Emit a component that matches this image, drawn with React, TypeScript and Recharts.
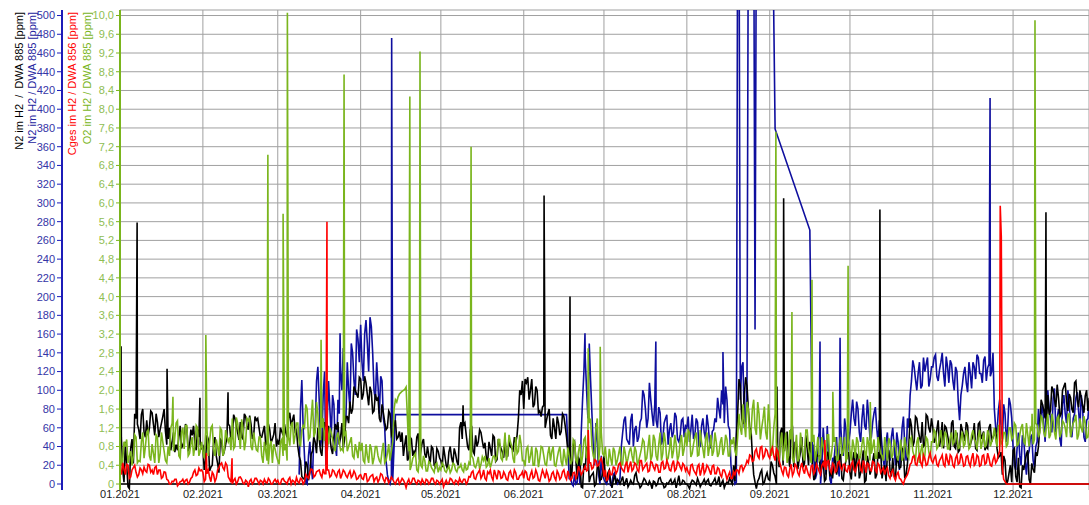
import React from 'react';
import { LineChart, Line, XAxis, YAxis, CartesianGrid, ReferenceLine } from 'recharts';

// ---- time axis (day of year 2021, 0 = 1 Jan) ----
const monthStarts = [0, 31, 59, 90, 120, 151, 181, 212, 243, 273, 304, 334];
const monthLabels = ['01.2021', '02.2021', '03.2021', '04.2021', '05.2021', '06.2021', '07.2021', '08.2021', '09.2021', '10.2021', '11.2021', '12.2021'];
const DAY_END = 362.4;

// ---- value axes ----
const ppmTicks = [0, 20, 40, 60, 80, 100, 120, 140, 160, 180, 200, 220, 240, 260, 280, 300, 320, 340, 360, 380, 400, 420, 440, 460, 480, 500];
const o2Ticks = [0, 0.4, 0.8, 1.2, 1.6, 2, 2.4, 2.8, 3.2, 3.6, 4, 4.4, 4.8, 5.2, 5.6, 6, 6.4, 6.8, 7.2, 7.6, 8, 8.4, 8.8, 9.2, 9.6, 10];
const PPM_MIN = -6.4;
const PPM_MAX = 505.9;
const O2_MIN = PPM_MIN / 50;
const O2_MAX = PPM_MAX / 50;

// ---- N2 im H2 / DWA 885 (black) [ppm]: midnight and midday readings per month ----
const n2BlackDaily: number[][] = [
  [40, 15, 45, -3, 38, 22, 70, 58, 74, 55, 68, 60, 76, 52, 66, 58, 72, 56, 48, 36, 55, 42, 50, 38, 46, 60, 40, 52, 44, 58, 42],
  [40, 25, 48, 18, 44, 30, 12, 46, 35, 50, 62, 50, 70, 55, 66, 48, 72, 58, 64, 52, 68, 60, 50, 62, 44, 58, 48, 65],
  [46, 60, 52, 55, 70, 62, 74, 58, 30, 8, 5, 20, 12, 35, 45, 60, 35, 55, 40, 62, 38, 50, 58, 42, 65, 48, 72, 88, 80, 100, 92],
  [112, 96, 108, 84, 98, 78, 90, 70, 85, 66, 60, 75, 55, 68, 50, 45, 30, 52, 28, 48, 35, 50, 26, 44, 32, 40, 22, 38, 18, 35],
  [25, 40, 20, 34, 28, 38, 24, 60, 48, 65, 40, 58, 35, 52, 45, 55, 38, 28, 45, 30, 50, 26, 42, 34, 48, 30, 40, 36, 44, 70, 95],
  [80, 108, 90, 112, 85, 100, 78, 82, 60, 75, 52, 70, 48, 65, 56, 72, 50, 30, 10, 45, 5, 25, -4, 15, 35, 8, 12, 0, 20, 5],
  [30, 2, 15, -4, 10, 5, 0, 8, 2, -3, 4, 0, 12, 1, -2, 6, 0, 3, -5, 2, 0, 7, 1, -3, 0, 5, 2, -4, 9, 0, 3],
  [0, -5, 4, 1, 6, -3, 2, 0, 5, -2, 3, 0, 8, 1, -4, 2, 6, 0, 3, 75, 105, 64, 114, 80, 58, 10, -5, 6, 15, 2, 12],
  [4, 20, 8, 35, 55, 20, 48, 30, 58, 18, 42, 26, 50, 22, 38, 45, 20, 8, 30, 12, 25, 5, 33, 15, 22, 10, 28, 6, 18, 30],
  [12, 25, 8, 30, 12, 36, 4, 22, 15, 33, 10, 27, 6, 20, 32, 14, 28, 5, 24, 18, 35, 10, 40, 62, 45, 70, 50, 66, 42, 72, 55],
  [60, 48, 68, 50, 38, 60, 44, 65, 40, 55, 36, 58, 46, 62, 42, 52, 38, 64, 48, 56, 40, 60, 45, 53, 38, 30, 10, 25, 3, 20],
  [36, 8, 28, -4, 15, 32, 5, 22, 12, 30, 60, 85, 70, 95, 78, 100, 82, 92, 75, 104, 88, 96, 80, 108, 90, 100, 84, 94, 78],
];
const n2BlackNoon: (number | null)[][] = [
  [50, 2, 20, -5, 48, 75, 64, 48, 80, 50, 52, 78, 64, 75, 50, 65, 80, 42, 60, 45, 34, 36, 62, 42, 64, 35, 58, 62, 36, 50, 38],
  [15, 52, 14, 20, 50, 22, 48, 30, 42, 64, 46, 74, 62, 47, 50, 75, 62, 73, 48, 72, 70, 50, 56, 42, 64, 44, 53, 40],
  [42, 56, 64, 50, 76, 68, 56, 40, 25, 6, 24, 4, 32, 50, 33, 48, 30, 66, 35, 50, 32, 64, 66, 50, 38, 72, 65, 75, 104, 96, 114],
  [90, 115, 96, 104, 76, 96, 92, 66, 76, 58, 78, 52, 62, 48, 56, 55, 42, 25, 50, 30, 32, 54, 35, 48, 28, 30, 40, 20, 38, 28],
  [18, 30, 16, 40, 22, 32, 20, 66, 62, 52, 36, 62, 32, 40, 58, 46, 44, 24, 38, 52, 24, 48, 38, 28, 30, 46, 38, 50, 52, 100, 110],
  [112, 114, 100, 82, 104, 76, 72, 84, 68, 80, 48, 60, 72, 52, 75, 62, 35, 8, 42, 25, 28, -3, 22, 40, 2, 10, -2, 18, 4, 12],
  [8, 12, 2, 4, 0, 3, 4, -2, 6, 0, 1, 9, 3, -4, 2, 4, -1, 0, 3, -2, 6, 2, -4, 1, 3, 0, 5, 2, -1, 4, 0],
  [-2, 1, 3, -1, 2, 0, 5, 3, -1, 1, 6, 2, -3, 4, 0, 1, 3, 20, 50, 112, 70, 96, 105, 60, 30, 2, 3, 12, 0, 8, 5],
  [24, 12, 0, 18, 60, 35, 56, 18, 60, 45, 16, 34, 18, 52, 20, 32, 4, 32, 30, 18, 3, 34, 8, 6, 30, 18, 32, 4, 25, 34],
  [5, 34, 32, 6, 24, 2, 30, 10, 25, 6, 34, 35, 16, 3, 36, 8, 10, 30, 17, 38, 6, 22, 70, 40, 72, 58, 44, 40, 74, 60, 70],
  [44, 58, 40, 66, 62, 52, 36, 68, 38, 34, 64, 52, 66, 38, 47, 65, 36, 66, 52, 36, 38, 64, 50, 60, 28, 34, 30, 0, 12, 2],
  [38, 2, -3, 20, 24, 36, 0, 16, 34, 40, 90, 78, 66, 74, 104, 90, 106, 72, 100, 108, 78, 92, 76, 110, 82, 92, 76, 100, 92],
];
const n2BlackPeaks: [number, number][] = [
  [0.4, 147], [6.4, 279], [17.6, 123], [29.9, 92], [40.4, 98], [128.3, 84], [158.6, 308],
  [168.3, 200], [245.7, 104], [248.2, 305], [284.2, 293], [346.3, 290],
];

// ---- N2 im H2 / DWA 885 (blue) [ppm]; null = no reading ----
const n2BlueDaily: (number | null)[][] = [
  [],
  [],
  [null, null, null, null, null, null, null, null, 10, 111, 30, 0, 45, 5, 60, 125, 40, 95, 20, 110, 50, 85, 30, 75, 100, 60, 130, 80, 140, 95, 155],
  [170, 110, 175, 120, 168, 100, 130, 75, 110, 60, 10, 0, 5, 74],
  [],
  [null, null, null, null, null, null, null, null, null, null, null, null, null, null, null, null, 74, 5, 0, 10, 2, 0, 90, 135, 70, 110, 40, 65, 10, 30],
  [5, 0, 8, 2, 12, 0, 6, 55, 72, 45, 68, 40, 62, 50, 70, 95, 60, 108, 75, 85, 60, 76, 48, 70, 42, 65, 55, 72, 45, 68, 50],
  [60, 45, 74, 52, 66, 40, 70, 48, 62, 38, 58, 66, 80, 100, 65, 90, 58, 5, 0, 620, 90, 130, 70, 620, 620, 620, 620, 620, 620, 620, 620],
  [620, 620, 379, null, null, null, null, null, null, null, null, null, null, null, null, 271, 20, 5, 45, 0, 60, 10, 35, 0, 25, 50, 8, 40, 70, 30],
  [55, 90, 62, 80, 45, 85, 58, 72, 50, 76, 60, 68, 40, 15, 55, 25, 60, 20, 45, 35, 72, 25, 60, 110, 125, 100, 130, 105, 120, 135, 112],
  [125, 138, 110, 130, 118, 136, 108, 128, 100, 120, 68, 105, 125, 98, 118, 130, 112, 135, 118, 132, 110, 128, 120, 80, 55, 90, 48, 75, 60, 85],
  [40, 15, 55, 20, 48, 10, 35, 52, 18, 45, 60, 85, 45, 100, 70, 92, 55, 80, 40, 95, 65, 88, 50, 75, 98, 60, 82, 45, 70],
];
const n2BlueNoon: (number | null)[][] = [
  [],
  [],
  [null, null, null, null, null, null, null, null, 80, 60, 2, 30, 20, 55, 110, 90, 50, 120, 70, 80, 95, 40, 90, 120, 145, 70, 100, 150, 110, 165, 130],
  [130, 160, 150, 178, 140, 90, 105, 115, 70, 25, 3, 8, null, null],
  [],
  [null, null, null, null, null, null, null, null, null, null, null, null, null, null, null, null, null, 8, -2, 0, 25, 55, 120, 100, 150, 75, 20, 45, 0, 10],
  [2, 6, -2, 10, 4, 2, 40, 68, 48, 42, 75, 58, 45, 66, 100, 80, 70, 90, 62, 68, 82, 42, 65, 74, 58, 50, 76, 48, 52, 70, 62],
  [72, 58, 48, 70, 40, 62, 55, 74, 45, 56, 70, 92, 70, 85, 104, 62, 20, 8, 2, 620, 125, 60, 112],
  [null, null, null, null, null, null, null, null, null, null, null, null, null, null, null, null, 42, 10, 55, 20, 38, 62, 5, 28, 40, 18, 65, 30, 58, 45],
  [75, 70, 88, 55, 70, 62, 90, 48, 66, 82, 45, 58, 25, 45, 30, 50, 40, 55, 15, 60, 40, 70, 95, 132, 112, 118, 102, 135, 128, 104, 125],
  [135, 115, 122, 140, 104, 125, 132, 110, 125, 88, 95, 118, 108, 130, 102, 125, 138, 118, 108, 136, 124, 115, 140, 60, 78, 62, 85, 45, 92, 70],
  [20, 38, 30, 52, 25, 30, 50, 25, 40, 80, 75, 62, 92, 80, 55, 102, 70, 48, 85, 75, 100, 55, 70, 92, 78, 95, 50, 68, 88],
];
const n2BluePeaks: [number, number][] = [
  [82.3, 161], [101.6, 476], [173.9, 161], [200.4, 152], [225.5, 141], [237.5, 165],
  [261.8, 152], [269.3, 156], [325.4, 412],
];

// ---- O2 im H2 / DWA 885 (green) [ppm] ----
const o2GreenDaily: number[][] = [
  [0.9, 0.5, 0.8, 0.45, 0.7, 0.6, 1.0, 0.5, 0.9, 0.55, 1.1, 0.6, 0.85, 0.45, 1.0, 0.65, 0.9, 0.5, 0.8, 1.2, 0.7, 1.3, 0.6, 1.1, 0.75, 1.25, 0.65, 1.0, 0.8, 1.2, 0.7],
  [0.7, 1.1, 0.6, 1.2, 0.75, 0.95, 0.6, 1.15, 0.7, 1.0, 1.0, 1.4, 0.8, 1.3, 0.75, 1.2, 0.9, 1.35, 0.8, 1.1, 0.73, 1.0, 0.6, 0.9, 0.5, 0.8, 0.45, 0.75],
  [0.5, 0.9, 0.6, 0.85, 1.0, 1.25, 0.85, 1.3, 0.9, 1.15, 1.2, 1.6, 1.0, 1.8, 1.1, 1.5, 0.95, 1.4, 1.2, 0.85, 1.1, 0.8, 1.0, 0.9, 0.75, 1.05, 0.7, 0.9, 0.6, 0.85, 0.55],
  [0.7, 0.5, 0.85, 0.45, 0.75, 0.55, 0.8, 0.5, 0.7, 0.45, 0.65, 0.5, 0.9, 1.8, 1.86, 1.95, 2.0, 2.07, 0.7, 0.4, 0.6, 0.3, 0.55, 0.35, 0.5, 0.28, 0.45, 0.3, 0.42, 0.25],
  [0.3, 0.4, 0.25, 0.38, 0.3, 0.42, 0.26, 0.35, 0.3, 0.45, 0.32, 0.4, 0.55, 0.35, 0.58, 0.42, 0.5, 0.36, 0.55, 0.45, 0.6, 0.6, 0.95, 0.5, 1.1, 0.65, 0.9, 0.55, 1.0, 0.7, 0.85],
  [0.5, 0.75, 0.45, 0.8, 0.4, 0.7, 0.55, 0.78, 0.42, 0.65, 0.5, 0.8, 0.38, 0.7, 0.48, 0.75, 0.4, 0.6, 0.5, 0.9, 0.45, 0.85, 0.6, 1.0, 0.7, 1.4, 0.6, 1.2, 0.5, 1.1],
  [0.6, 0.45, 0.75, 0.4, 0.7, 0.5, 0.8, 0.42, 0.65, 0.55, 0.78, 0.45, 0.7, 0.5, 0.75, 0.9, 0.55, 1.05, 0.6, 0.95, 0.5, 1.1, 0.65, 0.9, 0.55, 1.0, 0.7, 0.85, 0.6, 1.05, 0.75],
  [0.8, 1.1, 0.65, 1.0, 0.6, 1.15, 0.75, 0.95, 0.6, 1.05, 0.7, 0.9, 0.65, 1.0, 0.75, 0.95, 0.6, 0.85, 0.7, 1.0, 1.2, 1.7, 1.0, 1.6, 1.1, 1.8, 1.05, 1.5, 1.2, 1.65, 0.95],
  [1.3, 0.7, 1.5, 0.6, 0.9, 0.5, 1.1, 0.6, 0.95, 0.45, 1.05, 0.55, 0.85, 0.5, 1.15, 0.6, 0.9, 0.48, 1.0, 0.55, 0.8, 0.5, 1.05, 0.6, 0.9, 0.52, 0.85, 0.6, 1.0, 0.55],
  [0.7, 0.95, 0.55, 0.9, 0.6, 1.0, 0.5, 0.85, 0.65, 0.95, 0.55, 0.8, 0.6, 1.0, 0.5, 0.9, 0.62, 0.85, 0.5, 0.95, 0.6, 0.8, 0.55, 1.0, 0.6, 0.9, 0.45, 0.85, 0.6, 0.95, 0.55],
  [0.9, 1.1, 0.8, 1.15, 0.85, 1.05, 0.75, 1.1, 0.9, 1.0, 0.78, 1.12, 0.85, 1.05, 0.8, 1.15, 0.9, 1.0, 0.75, 1.1, 0.85, 1.05, 0.9, 1.2, 0.8, 1.25, 0.9, 1.1, 0.85, 1.2],
  [1.0, 1.25, 0.85, 1.2, 0.9, 1.3, 0.8, 1.15, 0.95, 1.25, 1.1, 1.4, 1.0, 1.5, 1.05, 1.35, 0.95, 1.45, 1.1, 1.3, 1.0, 1.5, 1.15, 1.35, 0.95, 1.4, 1.1, 1.3, 1.0],
];
const o2GreenNoon: (number | null)[][] = [
  [0.4, 0.9, 0.95, 0.6, 0.4, 1.05, 0.45, 0.48, 1.1, 0.8, 1.15, 0.5, 0.65, 1.05, 0.45, 1.1, 0.7, 0.45, 0.6, 1.3, 1.0, 1.35, 0.55, 1.2, 1.25, 0.6, 0.85, 0.6, 1.25, 0.6, 0.9],
  [0.55, 1.2, 0.9, 1.25, 0.6, 0.78, 1.2, 0.6, 1.15, 0.9, 0.72, 0.75, 1.42, 1.05, 1.38, 0.72, 1.4, 1.4, 0.72, 0.9, 0.7, 1.0, 0.45, 0.7, 0.42, 0.92, 0.85, 0.6],
  [0.42, 0.95, 0.72, 0.5, 0.82, 1.32, 1.05, 1.3, 0.8, 1.25, 1.7, 0.95, 1.4, 1.0, 1.75, 0.95, 1.2, 0.92, 1.25, 1.2, 0.95, 0.7, 1.1, 0.72, 0.7, 1.1, 0.8, 1.0, 0.55, 0.72, 0.9],
  [0.88, 0.45, 0.6, 0.85, 0.42, 0.8, 0.6, 0.45, 0.88, 0.5, 0.85, 0.7, 1.6, 1.75, 1.92, 1.98, 2.02, 1.4, 0.3, 0.55, 0.65, 0.26, 0.4, 0.6, 0.28, 0.48, 0.35, 0.25, 0.45, 0.35],
  [0.45, 0.28, 0.32, 0.24, 0.44, 0.3, 0.36, 0.42, 0.26, 0.3, 0.46, 0.6, 0.38, 0.45, 0.32, 0.58, 0.6, 0.4, 0.35, 0.58, 0.5, 0.95, 0.55, 0.75, 0.5, 1.05, 0.8, 0.45, 0.65, 1.05, 0.5],
  [0.38, 0.8, 0.6, 0.4, 0.78, 0.36, 0.8, 0.6, 0.4, 0.8, 0.7, 0.4, 0.55, 0.8, 0.38, 0.55, 0.78, 0.42, 0.95, 0.5, 0.7, 0.4, 0.95, 0.55, 1.3, 0.8, 0.5, 1.4, 0.8, 0.65],
  [0.8, 0.38, 0.55, 0.78, 0.4, 0.65, 0.4, 0.8, 0.42, 0.7, 0.6, 0.8, 0.4, 0.62, 0.95, 0.5, 0.8, 0.5, 1.05, 0.6, 0.85, 0.5, 1.1, 0.5, 0.75, 0.55, 1.05, 0.5, 0.9, 0.6, 1.1],
  [1.15, 0.58, 0.85, 1.1, 0.62, 0.9, 0.55, 1.1, 0.8, 0.6, 1.1, 0.58, 0.9, 0.62, 1.05, 0.6, 0.95, 1.0, 0.6, 1.5, 1.05, 1.3, 1.75, 0.95, 1.6, 1.2, 1.75, 0.95, 1.4, 1.1, 1.7],
  [0.6, 1.2, 0.9, 0.5, 1.1, 0.8, 0.45, 1.15, 0.55, 0.75, 0.48, 1.1, 0.6, 1.15, 0.75, 0.45, 1.05, 0.7, 0.5, 1.0, 0.62, 1.05, 0.5, 0.85, 1.0, 0.5, 1.0, 0.7, 0.5, 0.95],
  [0.5, 0.8, 1.0, 0.5, 0.85, 0.7, 1.0, 0.5, 0.78, 0.55, 1.0, 0.65, 0.5, 0.75, 0.98, 0.55, 0.95, 0.6, 0.72, 0.5, 1.0, 0.6, 0.95, 0.7, 0.5, 1.0, 0.7, 0.5, 1.0, 0.68, 0.9],
  [1.15, 0.75, 1.0, 0.8, 1.12, 0.75, 1.0, 0.85, 1.15, 0.76, 0.95, 0.8, 1.15, 0.75, 1.05, 0.95, 0.74, 1.15, 0.9, 0.78, 1.15, 0.8, 1.0, 0.95, 1.25, 0.85, 1.1, 0.8, 1.2, 0.95],
  [1.3, 0.82, 1.05, 1.28, 0.85, 1.05, 1.2, 0.85, 1.3, 1.0, 1.45, 1.1, 1.25, 0.98, 1.5, 1.1, 1.4, 1.0, 1.35, 1.2, 1.48, 1.0, 1.3, 1.48, 1.05, 1.2, 1.45, 0.98, 1.35],
];
const o2GreenPeaks: [number, number][] = [
  [19.8, 1.86], [32.1, 3.18], [55.3, 7.03], [61.0, 5.77], [62.6, 10.06], [75.2, 3.08], [83.8, 8.74],
  [108.4, 8.27], [112.2, 9.23], [131.3, 7.2], [175.1, 2.9], [179.6, 2.93], [245.3, 7.52], [251.3, 3.67],
  [258.8, 4.36], [266.6, 1.97], [272.3, 4.66], [280.6, 1.75], [341.1, 1.5], [342.2, 9.9],
];

// ---- Cges im H2 / DWA 856 (red) [ppm] ----
const cgesRedDaily: number[][] = [
  [0.3, 0.45, 0.2, 0.4, 0.15, 0.35, 0.25, 0.2, 0.3, 0.36, 0.25, 0.4, 0.3, 0.35, 0.2, 0.3, 0.15, 0.25, 0.08, 0.0, 0.05, 0.1, 0.0, 0.06, 0.02, 0.1, 0.04, 0.15, 0.3, 0.2, 0.28],
  [0.25, 0.1, 0.3, 0.05, 0.2, 0.12, 0.35, 0.45, 0.3, 0.4, 0.1, 0.0, 0.12, 0.05, 0.15, 0.02, 0.08, -0.06, 0.1, 0.04, 0.12, 0.0, 0.06, 0.1, 0.02, 0.08, 0.0, 0.1],
  [0.08, 0.0, 0.12, 0.04, 0.1, 0.0, 0.06, 0.14, 0.02, 0.1, 0.05, 0.15, 0.25, 0.3, 0.18, 0.28, 0.2, 0.32, 0.22, 0.3, 0.18, 0.28, 0.15, 0.3, 0.2, 0.26, 0.14, 0.28, 0.18, 0.22, 0.12],
  [0.2, 0.1, 0.22, 0.08, 0.18, 0.05, 0.15, 0.1, 0.2, 0.04, 0.12, 0.08, 0.1, 0.0, 0.12, 0.05, 0.08, -0.08, 0.1, 0.03, 0.12, 0.0, 0.06, 0.1, 0.0, 0.08, 0.04, 0.12, 0.0, 0.06],
  [0.05, -0.06, 0.08, 0.02, 0.1, 0.0, 0.06, 0.12, 0.03, 0.1, 0.05, 0.15, 0.28, 0.1, 0.25, 0.12, 0.3, 0.08, 0.22, 0.15, 0.3, 0.1, 0.26, 0.14, 0.2, 0.08, 0.28, 0.12, 0.24, 0.1, 0.2],
  [0.12, 0.25, 0.08, 0.28, 0.15, 0.22, 0.06, 0.3, 0.12, 0.2, 0.1, 0.26, 0.08, 0.22, 0.14, 0.3, 0.1, 0.18, 0.12, 0.25, 0.2, 0.3, 0.25, 0.38, 0.3, 0.45, 0.35, 0.5, 0.4, 0.55],
  [0.15, 0.08, 0.3, 0.2, 0.35, 0.28, 0.45, 0.3, 0.4, 0.25, 0.48, 0.32, 0.42, 0.26, 0.5, 0.35, 0.44, 0.28, 0.46, 0.3, 0.4, 0.25, 0.48, 0.34, 0.42, 0.28, 0.5, 0.32, 0.45, 0.3, 0.4],
  [0.35, 0.2, 0.42, 0.25, 0.38, 0.18, 0.45, 0.28, 0.36, 0.2, 0.4, 0.22, 0.32, 0.15, 0.3, 0.1, 0.25, 0.12, 0.2, 0.3, 0.38, 0.28, 0.4, 0.45, 0.6, 0.5, 0.75, 0.55, 0.8, 0.6, 0.72],
  [0.55, 0.78, 0.5, 0.7, 0.4, 0.2, 0.35, 0.15, 0.42, 0.25, 0.38, 0.18, 0.45, 0.22, 0.3, 0.15, 0.4, 0.28, 0.35, 0.2, 0.45, 0.3, 0.5, 0.24, 0.4, 0.28, 0.48, 0.3, 0.42, 0.26],
  [0.3, 0.48, 0.26, 0.45, 0.3, 0.5, 0.24, 0.42, 0.28, 0.46, 0.25, 0.4, 0.3, 0.2, 0.35, 0.12, 0.3, 0.08, 0.25, 0.1, 0.0, 0.15, 0.3, 0.45, 0.6, 0.4, 0.62, 0.38, 0.55, 0.42, 0.66],
  [0.45, 0.6, 0.38, 0.55, 0.42, 0.65, 0.4, 0.58, 0.36, 0.62, 0.45, 0.55, 0.4, 0.6, 0.38, 0.66, 0.44, 0.58, 0.4, 0.62, 0.45, 0.55, 0.38, 0.6, 0.5, 0.7, 0.35, 0.05, 0.0, 0.0],
  [0, 0, 0, 0, 0, 0, 0, 0, 0, 0, 0, 0, 0, 0, 0, 0, 0, 0, 0, 0, 0, 0, 0, 0, 0, 0, 0, 0, 0],
];
const cgesRedNoon: (number | null)[][] = [
  [0.2, 0.32, 0.42, 0.12, 0.3, 0.4, 0.15, 0.34, 0.22, 0.28, 0.42, 0.25, 0.2, 0.38, 0.3, 0.12, 0.26, 0.1, 0.0, 0.06, 0.1, -0.04, 0.05, 0.1, 0.08, 0.0, 0.12, 0.25, 0.18, 0.34, 0.3],
  [0.05, 0.22, 0.15, 0.25, 0.05, 0.3, 0.42, 0.35, 0.45, 0.15, 0.04, 0.08, 0.0, 0.14, 0.1, 0.0, 0.05, 0.06, 0.0, 0.12, 0.06, 0.08, 0.0, 0.04, 0.12, 0.0, 0.06, 0.04],
  [0.0, 0.1, 0.06, 0.0, 0.14, 0.08, 0.0, 0.05, 0.12, 0.0, 0.2, 0.12, 0.32, 0.15, 0.26, 0.3, 0.14, 0.22, 0.3, 0.15, 0.3, 0.2, 0.26, 0.12, 0.3, 0.18, 0.22, 0.14, 0.28, 0.1, 0.18],
  [0.12, 0.22, 0.05, 0.15, 0.2, 0.12, 0.04, 0.22, 0.1, 0.14, 0.02, 0.15, 0.04, 0.08, 0.0, 0.12, 0.02, 0.04, 0.0, 0.12, 0.04, 0.08, 0.0, 0.04, 0.1, 0.0, 0.12, 0.04, 0.08, 0.0],
  [0.1, 0.02, 0.0, 0.12, 0.04, 0.08, 0.0, 0.05, 0.1, 0.0, 0.16, 0.25, 0.12, 0.2, 0.3, 0.18, 0.12, 0.26, 0.3, 0.08, 0.2, 0.28, 0.12, 0.26, 0.1, 0.24, 0.16, 0.3, 0.1, 0.18, 0.26],
  [0.28, 0.1, 0.2, 0.12, 0.3, 0.08, 0.18, 0.22, 0.28, 0.06, 0.22, 0.14, 0.28, 0.1, 0.26, 0.16, 0.28, 0.08, 0.24, 0.12, 0.38, 0.2, 0.32, 0.28, 0.45, 0.32, 0.52, 0.38, 0.5, 0.42],
  [0.3, 0.1, 0.2, 0.36, 0.22, 0.42, 0.35, 0.26, 0.48, 0.38, 0.28, 0.45, 0.3, 0.5, 0.3, 0.4, 0.26, 0.48, 0.36, 0.42, 0.25, 0.45, 0.32, 0.5, 0.3, 0.42, 0.28, 0.48, 0.36, 0.44, 0.28],
  [0.25, 0.4, 0.3, 0.2, 0.42, 0.3, 0.22, 0.4, 0.28, 0.38, 0.22, 0.35, 0.2, 0.3, 0.22, 0.18, 0.12, 0.26, 0.3, 0.22, 0.4, 0.35, 0.5, 0.62, 0.48, 0.7, 0.6, 0.78, 0.55, 0.75, 0.6],
  [0.72, 0.6, 0.75, 0.5, 0.28, 0.36, 0.2, 0.32, 0.18, 0.42, 0.24, 0.35, 0.3, 0.4, 0.2, 0.38, 0.22, 0.42, 0.26, 0.4, 0.36, 0.48, 0.3, 0.44, 0.25, 0.45, 0.35, 0.42, 0.28, 0.4],
  [0.42, 0.3, 0.38, 0.5, 0.26, 0.4, 0.45, 0.3, 0.48, 0.3, 0.44, 0.24, 0.35, 0.3, 0.18, 0.25, 0.15, 0.2, 0.12, 0.04, 0.1, 0.2, 0.42, 0.58, 0.42, 0.55, 0.45, 0.62, 0.4, 0.58, 0.5],
  [0.55, 0.42, 0.5, 0.62, 0.38, 0.5, 0.62, 0.4, 0.55, 0.42, 0.65, 0.38, 0.58, 0.45, 0.55, 0.4, 0.62, 0.38, 0.6, 0.42, 0.66, 0.4, 0.52, 0.45, 0.62, null, 0.1, 0.0, 0.0, 0.0],
  [0, 0, 0, 0, 0, 0, 0, 0, 0, 0, 0, 0, 0, 0, 0, 0, 0, 0, 0, 0, 0, 0, 0, 0, 0, 0, 0, 0, 0],
];
const cgesRedPeaks: [number, number][] = [
  [32.3, 0.66], [41.9, 0.55], [77.4, 5.6], [175.1, 1.15], [263.6, 0.94], [329.2, 5.94], [329.6, 5.28],
];

// ---- colours ----
const C_BLACK = '#000000';
const C_BLUE = '#0e0e9e';
const C_RED = '#ff0000';
const C_GREEN = '#7ab51d';
const C_GRID = '#a0a0a0';
const LINE_W = 1.6;

type Pt = { day: number; v: number };

// midnight readings sit on (month start + index), midday readings half a day later;
// peaks are short excursions recorded between those readings
function buildSeries(daily: (number | null)[][], noon: (number | null)[][], peaks: [number, number][]): Pt[] {
  const pts: Pt[] = [];
  const add = (months: (number | null)[][], offset: number) =>
    months.forEach((vals, m) => {
      vals.forEach((v, i) => {
        if (v !== null && v !== undefined) pts.push({ day: monthStarts[m] + i + offset, v });
      });
    });
  add(daily, 0);
  add(noon, 0.5);
  peaks.forEach(([day, v]) => pts.push({ day, v }));
  return pts.sort((a, b) => a.day - b.day);
}

const blackData = buildSeries(n2BlackDaily, n2BlackNoon, n2BlackPeaks);
const blueData = buildSeries(n2BlueDaily, n2BlueNoon, n2BluePeaks);
const greenData = buildSeries(o2GreenDaily, o2GreenNoon, o2GreenPeaks);
const redData = buildSeries(cgesRedDaily, cgesRedNoon, cgesRedPeaks);

const titleStyle: React.CSSProperties = { whiteSpace: 'pre' };

function VerticalTitle({ x, text, color }: { x: number; text: string; color: string }) {
  const top = 12;
  return (
    <text x={x} y={top} transform={`rotate(-90 ${x} ${top})`} textAnchor="end" fontSize={11} fill={color} style={titleStyle}>
      {text}
    </text>
  );
}

function PpmTitles() {
  return (
    <g>
      <VerticalTitle x={23} text="N2 im H2  /  DWA 885 [ppm]" color={C_BLACK} />
      <VerticalTitle x={36} text="N2 im H2 / DWA 885 [ppm]" color="#2424a0" />
    </g>
  );
}

function O2Titles() {
  return (
    <g>
      <VerticalTitle x={76} text="Cges im H2 / DWA 856 [ppm]" color={C_RED} />
      <VerticalTitle x={91} text="O2 im H2 / DWA 885 [ppm]" color={C_GREEN} />
    </g>
  );
}

const formatO2 = (v: number) => (v === 0 ? '0' : v.toFixed(1).replace('.', ','));
const formatMonth = (d: number) => monthLabels[monthStarts.indexOf(d)] ?? '';

export default function App() {
  return (
    <div style={{ position: 'absolute', left: 0, top: 0, width: 1089, height: 505, background: '#fff', fontFamily: '"Liberation Sans", Arial, sans-serif' }}>
      <LineChart width={1089} height={505} margin={{ top: 10, right: 0, bottom: 0, left: 0 }}>
        <CartesianGrid yAxisId="ppm" horizontalValues={ppmTicks} stroke={C_GRID} strokeWidth={1} />
        <XAxis
          type="number"
          dataKey="day"
          domain={[0, DAY_END]}
          allowDataOverflow
          ticks={monthStarts}
          interval={0}
          tickFormatter={formatMonth}
          height={15}
          axisLine={false}
          tickLine={false}
          tickSize={0}
          tickMargin={0}
          tick={{ fontSize: 11, fill: '#1a1a1a' }}
        />
        <YAxis
          yAxisId="o2"
          orientation="left"
          width={58}
          type="number"
          domain={[O2_MIN, O2_MAX]}
          allowDataOverflow
          ticks={o2Ticks}
          interval={0}
          tickFormatter={formatO2}
          axisLine={{ stroke: C_GREEN, strokeWidth: 2 }}
          tickLine={{ stroke: C_GREEN }}
          tickSize={4}
          tickMargin={2}
          tick={{ fontSize: 11, fill: '#8ebd52' }}
          label={<O2Titles />}
        />
        <YAxis
          yAxisId="ppm"
          orientation="left"
          width={62}
          type="number"
          domain={[PPM_MIN, PPM_MAX]}
          allowDataOverflow
          ticks={ppmTicks}
          interval={0}
          axisLine={{ stroke: '#1c1cb8', strokeWidth: 2 }}
          tickLine={{ stroke: '#1c1cb8' }}
          tickSize={5}
          tickMargin={2}
          tick={{ fontSize: 11, fill: '#3434a6' }}
          label={<PpmTitles />}
        />
        <ReferenceLine yAxisId="ppm" y={PPM_MAX} stroke={C_GRID} strokeWidth={1} />
        <ReferenceLine yAxisId="ppm" y={0} stroke={C_BLACK} strokeWidth={1.5} />
        <Line data={blueData} dataKey="v" yAxisId="ppm" type="linear" stroke={C_BLUE} strokeWidth={LINE_W} dot={false} activeDot={false} isAnimationActive={false} />
        <Line data={blackData} dataKey="v" yAxisId="ppm" type="linear" stroke={C_BLACK} strokeWidth={LINE_W} dot={false} activeDot={false} isAnimationActive={false} />
        <Line data={greenData} dataKey="v" yAxisId="o2" type="linear" stroke={C_GREEN} strokeWidth={LINE_W} dot={false} activeDot={false} isAnimationActive={false} />
        <Line data={redData} dataKey="v" yAxisId="o2" type="linear" stroke={C_RED} strokeWidth={LINE_W} dot={false} activeDot={false} isAnimationActive={false} />
      </LineChart>
    </div>
  );
}
